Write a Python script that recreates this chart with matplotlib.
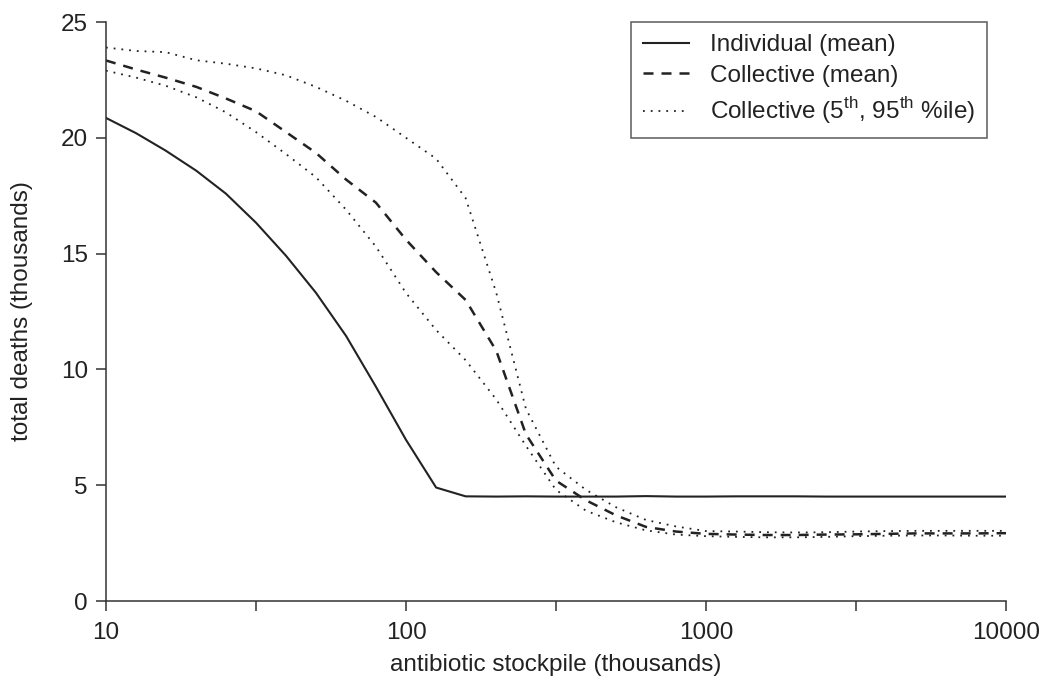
import matplotlib
matplotlib.use("Agg")
import matplotlib.pyplot as plt

plt.rcParams["font.family"] = ["Liberation Sans", "DejaVu Sans"]
plt.rcParams["mathtext.fontset"] = "custom"
plt.rcParams["mathtext.rm"] = "Liberation Sans"

# antibiotic stockpile (thousands), 0.1-decade steps
stockpile = [10, 12.6, 15.8, 20, 25.1, 31.6, 39.8, 50.1, 63.1, 79.4,
             100, 126, 158, 200, 251, 316, 398, 501, 631, 794,
             1000, 1259, 1585, 1995, 2512, 3162, 3981, 5012, 6310, 7943, 10000]

# total deaths (thousands)
individual_mean = [20.86, 20.2, 19.45, 18.58, 17.59, 16.34, 14.91, 13.31, 11.45, 9.25,
                   6.96, 4.9, 4.52, 4.51, 4.52, 4.51, 4.51, 4.51, 4.53, 4.51,
                   4.51, 4.52, 4.52, 4.52, 4.51, 4.51, 4.51, 4.51, 4.51, 4.51, 4.51]
collective_mean = [23.34, 22.95, 22.6, 22.2, 21.7, 21.15, 20.25, 19.35, 18.2, 17.2,
                   15.6, 14.2, 13.0, 10.8, 7.2, 5.2, 4.35, 3.7, 3.2, 3.0,
                   2.9, 2.87, 2.85, 2.85, 2.87, 2.88, 2.9, 2.92, 2.92, 2.92, 2.93]
collective_p95 = [23.9, 23.75, 23.7, 23.35, 23.2, 23.0, 22.7, 22.2, 21.6, 20.9,
                  20.0, 19.1, 17.4, 13.3, 8.3, 5.8, 4.8, 4.05, 3.5, 3.22,
                  3.02, 3.0, 2.97, 2.96, 2.97, 3.0, 3.02, 3.03, 3.03, 3.03, 3.03]
collective_p5 = [22.9, 22.6, 22.25, 21.75, 21.1, 20.25, 19.3, 18.3, 16.9, 15.3,
                 13.3, 11.7, 10.4, 8.7, 6.7, 4.8, 3.9, 3.4, 3.05, 2.87,
                 2.8, 2.77, 2.75, 2.75, 2.77, 2.8, 2.82, 2.83, 2.83, 2.82, 2.82]

x_ticks = [10, 31.6, 100, 316, 1000, 3162, 10000]
x_tick_labels = ["10", "", "100", "", "1000", "", "10000"]
y_ticks = [0, 5, 10, 15, 20, 25]

ink = "#222222"
fs = 17.5

fig = plt.figure(figsize=(10.43, 6.84), dpi=100)
ax = fig.add_axes([0.1016, 0.1213, 0.863, 0.8465])

ax.plot(stockpile, individual_mean, color=ink, lw=1.5, label="Individual (mean)")
ax.plot(stockpile, collective_mean, color=ink, lw=1.8, linestyle=(0, (4.0, 3.2)),
        label="Collective (mean)")
ax.plot(stockpile, collective_p95, color=ink, lw=1.3, linestyle=(0, (1, 3.3)),
        label="Collective (5$^{\\mathrm{th}}$, 95$^{\\mathrm{th}}$ %ile)")
ax.plot(stockpile, collective_p5, color=ink, lw=1.3, linestyle=(0, (1, 3.3)))

ax.set_xscale("log")
ax.set_xlim(10, 10000)
ax.set_ylim(0, 25)
ax.set_xticks(x_ticks)
ax.set_xticklabels(x_tick_labels)
ax.minorticks_off()
ax.set_yticks(y_ticks)

ax.spines["top"].set_visible(False)
ax.spines["right"].set_visible(False)
for s in ("left", "bottom"):
    ax.spines[s].set_linewidth(1.1)
    ax.spines[s].set_color("#333333")

ax.tick_params(axis="both", direction="out", length=7, width=1.1, color="#333333",
               labelsize=fs, labelcolor=ink)
ax.tick_params(axis="y", pad=6)
ax.tick_params(axis="x", pad=8)

ax.set_xlabel("antibiotic stockpile (thousands)", fontsize=fs, color=ink, labelpad=7)
ax.set_ylabel("total deaths (thousands)", fontsize=fs, color=ink, labelpad=20)

leg = ax.legend(loc="upper right", bbox_to_anchor=(0.979, 1.0), borderaxespad=0,
                fontsize=fs, frameon=True, fancybox=False, handlelength=1.9,
                handletextpad=0.85, borderpad=0.5, labelspacing=0.35)
leg.get_frame().set_edgecolor("#333333")
leg.get_frame().set_linewidth(1.1)
for t in leg.get_texts():
    t.set_color(ink)

fig.savefig("out.png", dpi=100)
